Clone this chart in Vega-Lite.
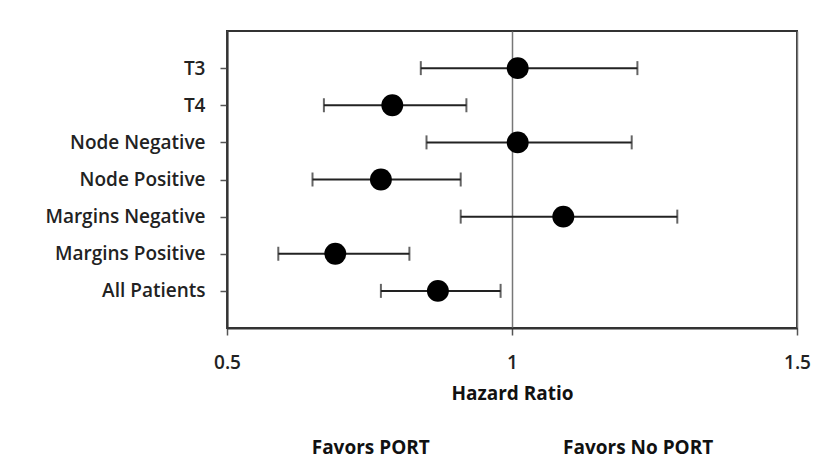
{
  "$schema": "https://vega.github.io/schema/vega-lite/v6.json",
  "width": 570,
  "height": 297,
  "autosize": {"type": "none"},
  "padding": {"left": 227, "top": 31, "right": 42, "bottom": 146},
  "background": "white",
  "config": {
    "view": {"stroke": "#333333", "strokeWidth": 2},
    "font": "Open Sans"
  },
  "data": {
    "values": [
      {"group": "T3", "hr": 1.01, "low": 0.84, "high": 1.22},
      {"group": "T4", "hr": 0.79, "low": 0.67, "high": 0.92},
      {"group": "Node Negative", "hr": 1.01, "low": 0.85, "high": 1.21},
      {"group": "Node Positive", "hr": 0.77, "low": 0.65, "high": 0.91},
      {"group": "Margins Negative", "hr": 1.09, "low": 0.91, "high": 1.29},
      {"group": "Margins Positive", "hr": 0.69, "low": 0.59, "high": 0.82},
      {"group": "All Patients", "hr": 0.87, "low": 0.77, "high": 0.98}
    ]
  },
  "encoding": {
    "y": {
      "field": "group",
      "type": "nominal",
      "sort": null,
      "scale": {"type": "point", "padding": 1},
      "axis": {
        "title": null,
        "labelFontSize": 19,
        "labelFontWeight": 600,
        "labelColor": "#222222",
        "labelPadding": 15,
        "tickSize": 7,
        "tickColor": "#555555",
        "tickWidth": 1.5,
        "domainColor": "#333333",
        "domainWidth": 2,
        "grid": false
      }
    }
  },
  "layer": [
    {
      "mark": {"type": "rule", "color": "#222222", "strokeWidth": 2},
      "encoding": {
        "x": {
          "field": "low",
          "type": "quantitative",
          "scale": {"domain": [0.5, 1.5], "nice": false, "zero": false},
          "axis": {
            "values": [0.5, 1, 1.5],
            "format": "~g",
            "labelFlush": false,
            "grid": true,
            "gridColor": "#777777",
            "gridWidth": 1.5,
            "tickSize": 7,
            "tickColor": "#555555",
            "tickWidth": 1.5,
            "domainColor": "#333333",
            "domainWidth": 2,
            "labelFontSize": 19,
            "labelFontWeight": 600,
            "labelColor": "#222222",
            "labelPadding": 18,
            "title": ["Hazard Ratio", "Favors PORT\u00a0\u00a0\u00a0\u00a0\u00a0\u00a0\u00a0\u00a0\u00a0\u00a0\u00a0\u00a0\u00a0\u00a0\u00a0\u00a0\u00a0\u00a0\u00a0\u00a0\u00a0\u00a0\u00a0\u00a0\u00a0\u00a0\u00a0Favors No PORT"],
            "titleFontSize": 19,
            "titleFontWeight": "bold",
            "titleColor": "#111111",
            "titleLineHeight": 54,
            "titlePadding": 12
          }
        },
        "x2": {"field": "high"}
      }
    },
    {
      "mark": {"type": "tick", "color": "#222222", "thickness": 2, "size": 14},
      "encoding": {"x": {"field": "low", "type": "quantitative"}}
    },
    {
      "mark": {"type": "tick", "color": "#222222", "thickness": 2, "size": 14},
      "encoding": {"x": {"field": "high", "type": "quantitative"}}
    },
    {
      "mark": {"type": "circle", "size": 480, "color": "#000000", "opacity": 1},
      "encoding": {"x": {"field": "hr", "type": "quantitative"}}
    }
  ]
}
